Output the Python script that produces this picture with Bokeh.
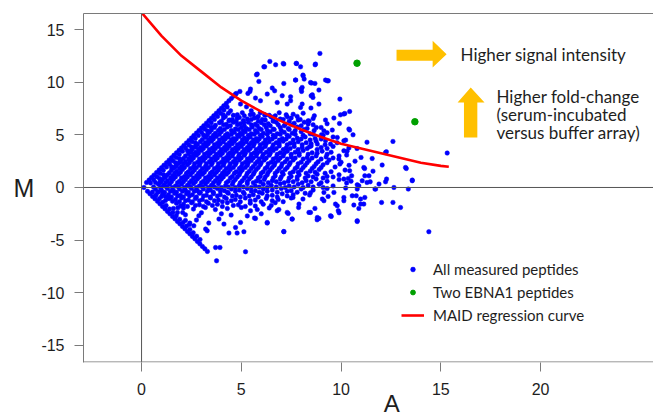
from bokeh.plotting import figure
from bokeh.models import (Range1d, LinearAxis, FixedTicker, Span, Label, Legend,
                          LegendItem, PolyAnnotation)
from bokeh.embed import file_html
from bokeh.resources import INLINE

# ---------------- data ----------------
x_ticks = [0, 5, 10, 15, 20]
y_ticks = [-15, -10, -5, 0, 5, 10, 15]

# MAID regression curve
curve_A = [0.05, 1, 2, 3, 4, 5, 6, 7, 8, 9, 10, 11, 12, 13, 14, 15, 15.4]
curve_M = [16.5, 14.4, 12.5, 11.0, 9.5, 8.25, 7.2, 6.3, 5.5, 4.8, 4.15, 3.7, 3.25, 2.8, 2.35, 2.05, 1.97]

# two EBNA1 peptides
ebna_A = [10.8, 13.7]
ebna_M = [11.8, 6.24]

# all measured peptides, (A, M) pairs grouped by region of the cloud
upper_edge = [(0.25,0.47),(0.38,0.71),(0.5,0.94),(0.62,1.17),(0.75,1.41),(0.88,1.65),(1.0,1.88),
              (1.12,2.11),(1.25,2.35),(1.38,2.59),(1.5,2.82),(1.62,3.05),(1.75,3.29),(1.88,3.53),
              (2.0,3.76),(2.12,3.99),(2.25,4.23),(2.38,4.47),(2.5,4.7),(2.62,4.93),(2.75,5.17),
              (2.88,5.41),(3.0,5.64),(3.12,5.87),(3.25,6.11),(3.38,6.35),(3.5,6.58),(3.62,6.81),
              (3.75,7.05),(3.88,7.29),(4.0,7.52),(4.12,7.75),(4.25,7.99),(4.38,8.23),(4.5,8.46),
              (4.62,8.69),(4.75,8.93)]
upper_inner = [(0.45,0.43),(0.61,0.73),(0.77,1.03),(0.93,1.33),(1.09,1.64),(1.25,1.94),(1.41,2.24),
               (1.57,2.54),(1.73,2.84),(1.89,3.14),(2.05,3.44),(2.21,3.74),(2.37,4.04),(2.53,4.34),
               (2.69,4.64),(2.85,4.94),(3.01,5.25),(3.17,5.55),(3.33,5.85),(3.49,6.15),(3.65,6.45),
               (3.81,6.75),(3.97,7.05),(4.13,7.35),(4.29,7.65),
               (0.7,0.47),(0.9,0.85),(1.1,1.22),(1.5,1.97),(1.7,2.35),(1.9,2.73),(2.3,3.48),(2.5,3.85),
               (2.7,4.23),(3.1,4.98),(3.3,5.36),(3.5,5.73),
               (0.95,0.56),(1.2,1.03),(1.7,1.97),(1.95,2.44),(2.45,3.38),(2.7,3.85),(3.2,4.79)]
lower_edge = [(0.12,0.0),(0.3,-0.37),(0.42,-0.6),(0.55,-0.85),(0.67,-1.07),(0.8,-1.32),(0.92,-1.55),
              (1.05,-1.8),(1.17,-2.02),(1.3,-2.27),(1.42,-2.5),(1.55,-2.75),(1.67,-2.97),(1.8,-3.22),
              (1.92,-3.45),(2.05,-3.7),(2.17,-3.92),(2.3,-4.17),(2.42,-4.4),(2.55,-4.65),(2.67,-4.87),
              (2.8,-5.12),(2.92,-5.35),(3.05,-5.6),(3.17,-5.82),(3.3,-6.07)]
lower_inner = [(0.55,-0.43),(0.72,-0.75),(0.89,-1.07),(1.06,-1.4),(1.23,-1.72),(1.4,-2.04),(1.57,-2.37),
               (1.74,-2.69),(1.91,-3.01),(2.08,-3.33),(2.25,-3.66),(2.42,-3.98),(2.59,-4.3),(2.76,-4.63),
               (2.93,-4.95),
               (0.8,-0.47),(1.0,-0.85),(1.2,-1.23),(1.6,-1.99),(1.8,-2.37),(2.2,-3.13),(2.4,-3.51),
               (1.1,-0.56),(1.34,-1.02),(1.82,-1.93),(2.06,-2.38)]
core = [(4.35,7.05),(4.8,6.9),(5.05,7.1),(5.6,6.95),(5.95,7.1),(6.4,6.85),(6.9,7.1),(7.6,6.95),(8.1,7.05),
        (4.1,6.6),(4.55,6.45),(4.9,6.65),(5.3,6.5),(5.65,6.6),(6.05,6.45),(6.5,6.7),(6.95,6.5),(7.5,6.6),(7.95,6.45),(8.6,6.55),
        (3.9,6.15),(4.25,6.0),(4.6,6.2),(4.95,6.05),(5.35,6.2),(5.7,6.0),(6.0,6.15),(6.35,6.05),(6.75,6.2),(7.2,6.0),(7.65,6.1),(8.15,6.2),(9.3,6.05),
        (3.65,5.7),(3.95,5.6),(4.3,5.75),(4.7,5.55),(5.0,5.7),(5.25,5.6),(5.55,5.75),(5.9,5.6),(6.25,5.7),(6.6,5.55),(6.95,5.7),(7.35,5.6),(7.8,5.75),(8.3,5.6),(9.0,5.7),
        (3.4,5.25),(3.7,5.15),(4.0,5.3),(4.3,5.1),(4.65,5.25),(4.95,5.15),(5.2,5.3),(5.5,5.1),(5.8,5.25),(6.1,5.15),(6.45,5.3),(6.8,5.1),(7.15,5.25),(7.55,5.15),(8.0,5.3),(8.45,5.1),(9.3,5.2),(10.6,5.0),
        (3.2,4.8),(3.45,4.7),(3.75,4.85),(4.05,4.7),(4.35,4.8),(4.6,4.65),(4.9,4.85),(5.15,4.7),(5.45,4.8),(5.75,4.65),(6.05,4.85),(6.35,4.7),(6.7,4.8),(7.05,4.65),(7.4,4.85),(7.8,4.7),(8.2,4.8),(8.7,4.65),(9.6,4.8),
        (2.95,4.35),(3.2,4.25),(3.5,4.4),(3.8,4.2),(4.1,4.35),(4.4,4.25),(4.65,4.4),(4.95,4.2),(5.25,4.35),(5.5,4.25),(5.8,4.4),(6.1,4.2),(6.4,4.35),(6.75,4.25),(7.1,4.4),(7.45,4.2),(7.85,4.35),(8.25,4.25),(8.75,4.4),(9.8,4.25),(11.3,4.3),
        (2.7,3.9),(2.95,3.8),(3.25,3.95),(3.55,3.75),(3.85,3.9),(4.15,3.8),(4.4,3.95),(4.7,3.75),(5.0,3.9),(5.3,3.8),(5.6,3.95),(5.9,3.75),(6.2,3.9),(6.55,3.8),(6.9,3.95),(7.25,3.75),(7.65,3.9),(8.05,3.8),(8.5,3.95),(9.0,3.8),(9.6,3.9),(10.8,3.7),
        (2.45,3.45),(2.7,3.35),(3.0,3.5),(3.3,3.3),(3.6,3.45),(3.9,3.35),(4.2,3.5),(4.45,3.3),(4.75,3.45),(5.05,3.35),(5.35,3.5),(5.65,3.3),(5.95,3.45),(6.25,3.35),(6.6,3.5),(6.95,3.3),(7.3,3.45),(7.7,3.35),(8.1,3.5),(8.55,3.3),(9.05,3.45),(9.5,3.35),(10.3,3.45),
        (2.2,3.0),(2.45,2.9),(2.75,3.05),(3.05,2.85),(3.35,3.0),(3.65,2.9),(3.95,3.05),(4.25,2.85),(4.55,3.0),(4.85,2.9),(5.15,3.05),(5.45,2.85),(5.75,3.0),(6.05,2.9),(6.4,3.05),(6.75,2.85),(7.1,3.0),(7.5,2.9),(7.9,3.05),(8.3,2.85),(8.75,3.0),(9.25,2.9),(9.9,3.0),(11.0,2.85),
        (1.95,2.55),(2.2,2.45),(2.5,2.6),(2.8,2.4),(3.1,2.55),(3.4,2.45),(3.7,2.6),(4.0,2.4),(4.3,2.55),(4.6,2.45),(4.9,2.6),(5.2,2.4),(5.5,2.55),(5.8,2.45),(6.15,2.6),(6.5,2.4),(6.85,2.55),(7.2,2.45),(7.6,2.6),(8.0,2.4),(8.4,2.55),(8.85,2.45),(9.4,2.6),(10.0,2.4),(10.7,2.5),
        (1.75,2.1),(2.0,2.0),(2.3,2.15),(2.6,1.95),(2.9,2.1),(3.2,2.0),(3.5,2.15),(3.8,1.95),(4.1,2.1),(4.4,2.0),(4.7,2.15),(5.0,1.95),(5.3,2.1),(5.6,2.0),(5.95,2.15),(6.3,1.95),(6.65,2.1),(7.0,2.0),(7.4,2.15),(7.8,1.95),(8.2,2.1),(8.65,2.0),(9.1,2.15),(9.7,1.95),(10.4,2.1),
        (1.5,1.65),(1.75,1.55),(2.05,1.7),(2.35,1.5),(2.65,1.65),(2.95,1.55),(3.25,1.7),(3.55,1.5),(3.85,1.65),(4.15,1.55),(4.45,1.7),(4.75,1.5),(5.05,1.65),(5.4,1.55),(5.75,1.7),(6.1,1.5),(6.45,1.65),(6.8,1.55),(7.2,1.7),(7.6,1.5),(8.0,1.65),(8.45,1.55),(8.9,1.7),(9.5,1.5),(10.2,1.65),(11.6,1.55),
        (1.3,1.2),(1.55,1.1),(1.85,1.25),(2.15,1.05),(2.45,1.2),(2.75,1.1),(3.05,1.25),(3.35,1.05),(3.65,1.2),(3.95,1.1),(4.25,1.25),(4.55,1.05),(4.9,1.2),(5.25,1.1),(5.6,1.25),(5.95,1.05),(6.3,1.2),(6.7,1.1),(7.1,1.25),(7.5,1.05),(7.9,1.2),(8.35,1.1),(8.8,1.25),(9.3,1.05),(9.9,1.2),
        (1.05,0.75),(1.3,0.65),(1.6,0.8),(1.9,0.6),(2.2,0.75),(2.5,0.65),(2.8,0.8),(3.1,0.6),(3.4,0.75),(3.7,0.65),(4.0,0.8),(4.35,0.6),(4.7,0.75),(5.05,0.65),(5.4,0.8),(5.75,0.6),(6.15,0.75),(6.55,0.65),(6.95,0.8),(7.35,0.6),(7.8,0.75),(8.25,0.65),(8.75,0.8),(9.3,0.6),(9.9,0.75),(10.5,0.6),
        (0.85,0.3),(1.1,0.2),(1.4,0.3),(1.7,0.15),(2.0,0.3),(2.3,0.2),(2.6,0.35),(2.9,0.15),(3.2,0.3),(3.5,0.2),(3.85,0.35),(4.2,0.15),(4.55,0.3),(4.9,0.2),(5.3,0.35),(5.7,0.15),(6.1,0.3),(6.5,0.2),(6.95,0.35),(7.4,0.15),(7.85,0.3),(8.35,0.2),(8.9,0.3),(9.6,0.15),
        (0.7,-0.15),(1.0,-0.25),(1.3,-0.1),(1.6,-0.3),(1.9,-0.15),(2.2,-0.25),(2.5,-0.1),(2.8,-0.3),(3.1,-0.15),(3.45,-0.25),(3.8,-0.1),(4.15,-0.3),(4.5,-0.15),(4.9,-0.25),(5.3,-0.1),(5.7,-0.3),(6.1,-0.15),(6.55,-0.25),(7.0,-0.1),(7.5,-0.3),(8.0,-0.15),(8.6,-0.25),(9.3,-0.1),
        (1.05,-0.6),(1.35,-0.7),(1.65,-0.55),(1.95,-0.75),(2.25,-0.6),(2.55,-0.7),(2.9,-0.55),(3.25,-0.75),(3.6,-0.6),(3.95,-0.7),(4.35,-0.55),(4.75,-0.75),(5.15,-0.6),(5.6,-0.7),(6.05,-0.55),(6.55,-0.75),(7.05,-0.6),(7.6,-0.7),(8.2,-0.55),
        (1.4,-1.05),(1.7,-1.15),(2.0,-1.0),(2.35,-1.2),(2.7,-1.05),(3.05,-1.15),(3.45,-1.0),(3.85,-1.2),(4.25,-1.05),(4.7,-1.15),(5.2,-1.0),(5.7,-1.2),(6.25,-1.05),(6.85,-1.15),(7.5,-1.0),
        (1.75,-1.5),(2.1,-1.6),(2.5,-1.45),(2.9,-1.65),(3.35,-1.5),(3.8,-1.6),(4.3,-1.45),(4.85,-1.65),(5.45,-1.5),(6.1,-1.6),(6.7,-1.45),
        (2.1,-1.95),(2.6,-2.05),(3.2,-1.9),(3.7,-2.1),(4.3,-2.0),(5.0,-1.9),(5.8,-2.1),(6.4,-1.95)]
core_between = [(4.2,6.75),(4.6,6.85),(5.15,6.8),(5.45,6.9),(5.85,6.75),(6.2,6.85),(6.7,6.8),(7.25,6.9),(7.8,6.75),
        (4.0,6.3),(4.4,6.4),(4.75,6.3),(5.1,6.35),(5.5,6.45),(5.85,6.3),(6.2,6.4),(6.6,6.3),(7.1,6.45),(7.4,6.3),(7.85,6.4),(8.4,6.3),
        (3.7,5.9),(4.1,5.95),(4.45,5.85),(4.8,5.95),(5.15,5.85),(5.5,5.95),(5.8,5.85),(6.15,5.95),(6.45,5.85),(6.85,5.95),(7.15,5.85),(7.55,5.95),(8.0,5.85),(8.6,5.95),
        (3.5,5.45),(3.85,5.4),(4.15,5.5),(4.5,5.4),(4.85,5.5),(5.1,5.4),(5.4,5.5),(5.7,5.4),(6.0,5.5),(6.3,5.4),(6.65,5.5),(7.0,5.4),(7.4,5.5),(7.7,5.4),(8.15,5.5),(8.65,5.4),
        (3.3,5.0),(3.6,4.95),(3.9,5.05),(4.2,4.95),(4.5,5.05),(4.8,4.95),(5.05,5.05),(5.35,4.95),(5.65,5.05),(5.95,4.95),(6.3,5.05),(6.6,4.95),(6.95,5.05),(7.3,4.95),(7.7,5.05),(8.1,4.95),(8.6,5.05),(9.1,4.95),
        (3.05,4.55),(3.35,4.5),(3.6,4.6),(3.9,4.5),(4.2,4.6),(4.5,4.5),(4.75,4.6),(5.05,4.5),(5.3,4.6),(5.6,4.5),(5.9,4.6),(6.2,4.5),(6.55,4.6),(6.9,4.5),(7.25,4.6),(7.6,4.5),(8.0,4.6),(8.45,4.5),(9.0,4.6),
        (2.8,4.1),(3.1,4.05),(3.35,4.15),(3.65,4.05),(3.95,4.15),(4.25,4.05),(4.55,4.15),(4.8,4.05),(5.1,4.15),(5.4,4.05),(5.65,4.15),(5.95,4.05),(6.25,4.15),(6.6,4.05),(6.9,4.15),(7.3,4.05),(7.65,4.15),(8.05,4.05),(8.5,4.15),(9.2,4.05),
        (2.55,3.65),(2.85,3.6),(3.1,3.7),(3.4,3.6),(3.7,3.7),(4.0,3.6),(4.3,3.7),(4.55,3.6),(4.85,3.7),(5.15,3.6),(5.45,3.7),(5.75,3.6),(6.05,3.7),(6.4,3.6),(6.75,3.7),(7.1,3.6),(7.45,3.7),(7.85,3.6),(8.3,3.7),(8.8,3.6),(9.3,3.7),
        (2.35,3.2),(2.6,3.15),(2.85,3.25),(3.15,3.15),(3.45,3.25),(3.75,3.15),(4.05,3.25),(4.35,3.15),(4.6,3.25),(4.9,3.15),(5.2,3.25),(5.5,3.15),(5.8,3.25),(6.1,3.15),(6.45,3.25),(6.8,3.15),(7.15,3.25),(7.5,3.15),(7.9,3.25),(8.35,3.15),(8.8,3.25),(9.3,3.15),
        (2.1,2.75),(2.35,2.7),(2.6,2.8),(2.9,2.7),(3.2,2.8),(3.5,2.7),(3.8,2.8),(4.1,2.7),(4.4,2.8),(4.7,2.7),(5.0,2.8),(5.3,2.7),(5.6,2.8),(5.9,2.7),(6.25,2.8),(6.6,2.7),(6.95,2.8),(7.3,2.7),(7.7,2.8),(8.1,2.7),(8.55,2.8),(9.0,2.7),(9.6,2.8),
        (1.85,2.3),(2.1,2.25),(2.4,2.35),(2.65,2.25),(2.95,2.35),(3.25,2.25),(3.55,2.35),(3.85,2.25),(4.15,2.35),(4.45,2.25),(4.75,2.35),(5.05,2.25),(5.35,2.35),(5.7,2.25),(6.0,2.35),(6.35,2.25),(6.7,2.35),(7.05,2.25),(7.45,2.35),(7.85,2.25),(8.3,2.35),(8.75,2.25),(9.3,2.35),
        (1.6,1.85),(1.9,1.8),(2.15,1.9),(2.45,1.8),(2.75,1.9),(3.05,1.8),(3.35,1.9),(3.65,1.8),(3.95,1.9),(4.25,1.8),(4.6,1.9),(4.9,1.8),(5.2,1.9),(5.5,1.8),(5.85,1.9),(6.2,1.8),(6.55,1.9),(6.9,1.8),(7.3,1.9),(7.7,1.8),(8.1,1.9),(8.55,1.8),(9.0,1.9),
        (1.4,1.4),(1.65,1.35),(1.95,1.45),(2.25,1.35),(2.55,1.45),(2.85,1.35),(3.15,1.45),(3.45,1.35),(3.75,1.45),(4.05,1.35),(4.35,1.45),(4.65,1.35),(4.95,1.45),(5.3,1.35),(5.65,1.45),(6.0,1.35),(6.35,1.45),(6.7,1.35),(7.05,1.45),(7.45,1.35),(7.85,1.45),(8.25,1.35),(8.7,1.45),(9.2,1.35),
        (1.15,0.95),(1.45,0.9),(1.7,1.0),(2.0,0.9),(2.3,1.0),(2.6,0.9),(2.9,1.0),(3.2,0.9),(3.5,1.0),(3.8,0.9),(4.1,1.0),(4.45,0.9),(4.8,1.0),(5.15,0.9),(5.5,1.0),(5.85,0.9),(6.2,1.0),(6.6,0.9),(7.0,1.0),(7.4,0.9),(7.8,1.0),(8.2,0.9),(8.6,1.0),(9.1,0.9),(9.6,1.0),
        (0.95,0.5),(1.2,0.45),(1.5,0.55),(1.8,0.45),(2.1,0.55),(2.4,0.45),(2.7,0.55),(3.0,0.45),(3.3,0.55),(3.6,0.45),(3.9,0.55),(4.25,0.45),(4.6,0.55),(4.95,0.45),(5.3,0.55),(5.6,0.45),(5.95,0.55),(6.35,0.45),(6.75,0.55),(7.15,0.45),(7.6,0.55),(8.05,0.45),(8.5,0.55),(9.0,0.45),
        (0.6,0.05),(0.95,0.0),(1.25,0.05),(1.55,0.0),(1.85,0.05),(2.15,0.0),(2.45,0.05),(2.75,0.0),(3.05,0.05),(3.35,0.0),(3.65,0.05),(4.0,0.0),(4.35,0.05),(4.7,0.0),(5.1,0.05),(5.5,0.0),(5.9,0.05),(6.3,0.0),(6.75,0.05),(7.2,0.0),(7.65,0.05),(8.1,0.0),(8.6,0.05),(9.1,0.0),
        (0.85,-0.4),(1.15,-0.45),(1.45,-0.35),(1.75,-0.45),(2.05,-0.35),(2.35,-0.45),(2.65,-0.35),(2.95,-0.45),(3.3,-0.35),(3.6,-0.45),(3.95,-0.35),(4.3,-0.45),(4.7,-0.35),(5.1,-0.45),(5.5,-0.35),(5.9,-0.45),(6.3,-0.35),(6.8,-0.45),(7.3,-0.35),(7.8,-0.45),
        (1.2,-0.85),(1.5,-0.9),(1.8,-0.8),(2.1,-0.9),(2.4,-0.8),(2.75,-0.9),(3.1,-0.8),(3.45,-0.9),(3.8,-0.8),(4.15,-0.9),(4.55,-0.8),(4.95,-0.9),(5.4,-0.8),(5.85,-0.9),(6.3,-0.8),(6.8,-0.9),(7.3,-0.8),
        (1.55,-1.3),(1.9,-1.35),(2.2,-1.25),(2.55,-1.35),(2.9,-1.25),(3.25,-1.35),(3.65,-1.25),(4.05,-1.35),(4.5,-1.25),(4.95,-1.35),(5.45,-1.25),(6.0,-1.35),(6.55,-1.25),(7.1,-1.35),
        (1.95,-1.75),(2.3,-1.8),(2.7,-1.7),(3.1,-1.8),(3.55,-1.7),(4.05,-1.8),(4.6,-1.7),(5.2,-1.8),(5.7,-1.75),(6.5,-1.7)]
high_points = [(8.94,12.73),(7.75,11.78),(7.97,11.46),(8.70,11.65),(8.09,10.67),(7.72,10.2),(8.15,10.29),
               (8.52,9.91),(8.69,9.88),(9.22,10.2),(9.36,10.13),(8.05,9.5),(8.02,9.12),(8.89,9.25),(8.56,8.8),
               (8.59,8.55),(7.47,8.61),(9.94,8.39),(8.05,7.92),(8.89,7.92),(10.43,7.22),(10.19,7.03),(9.97,6.9),
               (8.49,7.54),(8.66,6.81),(9.22,6.4),(9.64,6.59),(9.92,6.08),(8.35,6.33),(8.35,6.02),(8.76,5.7),
               (9.14,5.38),(9.56,5.45),(10.43,5.45),(9.81,4.75),(10.23,4.5),(12.6,4.37),(9.02,5.0),(9.22,4.43),
               (9.47,4.12),(8.81,4.12),(8.42,3.87),(10.39,3.74),
               (7.1,11.78),(6.72,11.65),(6.43,11.97),(6.17,11.46),(5.76,10.7),(5.88,10.07),(7.13,9.88),(6.55,9.44),
               (6.3,8.87),(5.46,9.34),(5.33,8.93),(4.93,9.12),(4.71,8.87),(5.71,8.49),(5.96,8.23),(7.05,8.71),
               (6.8,8.07),(7.3,7.92),(4.96,7.92),(5.26,7.66),(5.5,7.28),(4.46,7.28),(4.09,6.9),(4.79,6.59),
               (4.38,6.33),(5.13,6.17),(5.8,6.65),(6.17,6.9),(6.6,6.33),(7.3,6.71),
               (7.13,11.72),(7.77,11.78),(8.72,11.72),(6.13,11.46),(5.8,10.77),(7.72,10.2),(8.1,10.6),(8.47,9.97),
               (9.31,10.13),(8.0,9.34),(8.5,8.71),(6.67,9.18),(5.43,9.12),(7.47,8.23),(7.97,7.6),(10.14,6.97),
               (10.39,5.55),(10.14,4.43)]
low_points = [(2.87,-2.69),(3.37,-3.38),(4.38,-4.33),(4.79,-4.33),(5.13,-4.2),(4.71,-3.8),(4.49,-2.62),
              (4.13,-3.48),(4.96,-3.32),(5.71,-2.94),(6.3,-3.38),(7.13,-4.2),(7.3,-2.37),(6.88,-2.1),
              (5.46,-2.21),(3.88,-3.0),(3.21,-3.95),(2.62,-3.64),(2.42,-3.38),(3.71,-5.7),(3.93,-5.7),
              (3.76,-6.96),(5.21,-6.1),(5.66,-2.91),(6.8,-2.21),(7.55,-3.0),(3.29,-4.11),(2.2,-2.6),
              (3.0,-2.4),(4.0,-2.5),(5.3,-2.7),(6.0,-2.5),(2.75,-3.1),(6.3,-3.32),(7.13,-4.18)]
right_points = [(12.27,3.39),(11.56,2.75),(12.06,2.13),(13.27,1.8),(13.57,0.64),(13.37,-0.15),(12.65,0.0),
                (12.23,0.54),(11.9,0.32),(11.7,-0.15),(11.4,1.11),(11.46,0.54),(11.18,1.8),(11.06,0.64),
                (10.89,0.16),(12.03,-1.42),(12.6,-1.42),(12.98,-1.9),(14.4,-4.2),(10.81,-3.23),(10.89,-1.99),
                (10.64,-1.67),(11.14,-1.58),(11.19,-0.95),(10.98,-1.1),(10.76,-0.79),(10.56,-0.79),
                (10.14,-0.95),(9.81,-1.74),(9.86,-2.21),(9.9,-2.4),(9.51,-2.75),(8.89,-2.94),(8.8,-3.07),
                (7.89,-1.58),(7.87,-1.9),(8.39,-2.37),(8.69,-1.99),(7.55,-3.0),(7.35,-2.47),(7.59,-0.95),
                (8.09,-1.1),(8.42,-0.72),(8.47,-0.5),(9.14,-0.47),(9.06,-1.1),(9.35,-0.85),(9.64,-0.47),
                (11.19,1.11),(11.73,-0.15),(10.81,-0.15),(10.23,-0.06),(10.28,0.42),(10.36,0.86),
                (10.53,1.11),(10.14,0.8),(10.28,3.08),(10.14,3.49),(9.89,2.7),(9.94,2.22),(10.43,1.59),
                (12.23,3.32),(15.32,3.27),(13.23,1.9),(12.28,0.8),(13.57,0.7),(11.14,1.9),(11.3,0.47),
                (10.81,0.26),(10.98,-1.58),(10.81,-3.16),(10.14,-1.26),(9.72,-1.58),(9.47,-2.69),
                (9.14,-1.26),(8.81,-2.85),(8.47,-2.37)]

peptide_groups = [upper_edge, upper_inner, lower_edge, lower_inner, core, core_between,
                  high_points, low_points, right_points]
pep_A = [a for g in peptide_groups for a, m in g]
pep_M = [m for g in peptide_groups for a, m in g]

legend_labels = ["All measured peptides", "Two EBNA1 peptides", "MAID regression curve"]

# ---------------- figure ----------------
AXC = "#7a7a7a"
TXT = "#1e1e1e"
ORANGE = "#FFC000"

p = figure(width=653, height=419,
           x_range=Range1d(-2.91, 25.66), y_range=Range1d(-16.62, 16.52),
           output_backend="svg", toolbar_location=None,
           min_border_left=83, min_border_right=0, min_border_top=13, min_border_bottom=57)
p.outline_line_color = None
p.grid.visible = False

xax = p.xaxis[0]
yax = p.yaxis[0]
for ax in (xax, yax):
    ax.axis_line_color = AXC
    ax.major_tick_line_color = AXC
    ax.major_tick_out = 9
    ax.major_tick_in = 0
    ax.minor_tick_out = 0
    ax.minor_tick_in = 0
    ax.major_label_text_font = "Liberation Sans"
    ax.major_label_text_font_size = "16px"
    ax.major_label_text_color = TXT
    ax.axis_label_text_font = "Liberation Sans"
    ax.axis_label_text_font_style = "normal"
    ax.axis_label_text_color = TXT
xax.ticker = FixedTicker(ticks=x_ticks)
yax.ticker = FixedTicker(ticks=y_ticks)
yax.major_label_overrides = {-15: "-15", -10: "-10", -5: "-5"}
xax.major_label_standoff = 11
yax.major_label_standoff = 10

# x axis: label "A" sits right of the frame centre, as in the picture
xax.axis_line_color = None
xax.axis_label = "\u00a0" * 7 + "A"
xax.axis_label_text_font_size = "24px"
xax.axis_label_standoff = -8

yax.axis_label = "M"
yax.axis_label_text_font_size = "25px"
yax.axis_label_standoff = 4
if "axis_label_orientation" in yax.properties():
    yax.axis_label_orientation = "horizontal"

top = LinearAxis(ticker=FixedTicker(ticks=[]), axis_line_color=AXC,
                 major_tick_out=0, major_tick_in=0, minor_tick_out=0, minor_tick_in=0,
                 major_label_standoff=0, axis_label_standoff=0,
                 major_label_text_font_size="0px")
p.add_layout(top, "above")

blue = p.scatter(pep_A, pep_M, size=4.5, fill_color="#0000ff", line_color="#0000ff", line_width=0.5)

p.add_layout(Span(location=0, dimension="width", line_color="#555555", line_width=1))
p.add_layout(Span(location=0, dimension="height", line_color="#555555", line_width=1))
# bottom frame line
p.add_layout(Span(location=-16.57, dimension="width", line_color=AXC, line_width=1))

red = p.line(curve_A, curve_M, line_color="#ff0000", line_width=2.6)
green = p.scatter(ebna_A, ebna_M, size=6.5, fill_color="#00a000", line_color="#00a000")

legend = Legend(items=[LegendItem(label=legend_labels[0], renderers=[blue]),
                       LegendItem(label=legend_labels[1], renderers=[green]),
                       LegendItem(label=legend_labels[2], renderers=[red])],
                location=(318, 36), orientation="vertical",
                border_line_color=None, background_fill_alpha=0,
                padding=0, margin=0, spacing=1,
                label_height=22, glyph_height=12, glyph_width=23, label_standoff=9,
                label_text_font="Lato", label_text_font_size="15px", label_text_color=TXT)
p.add_layout(legend)

# block arrows
p.add_layout(PolyAnnotation(xs=[12.78, 14.59, 14.59, 15.29, 14.59, 14.59, 12.78],
                            ys=[12.03, 12.03, 11.40, 12.65, 13.93, 13.08, 13.08],
                            fill_color=ORANGE, fill_alpha=1, line_alpha=0))
p.add_layout(PolyAnnotation(xs=[16.16, 16.83, 16.83, 17.19, 16.5, 15.84, 16.16],
                            ys=[4.75, 4.75, 8.07, 8.07, 9.50, 8.07, 8.07],
                            fill_color=ORANGE, fill_alpha=1, line_alpha=0))

def note(x, y, s):
    p.add_layout(Label(x=x, y=y, text=s, text_font="Lato", text_font_size="17px",
                       text_baseline="middle", text_align="left", text_color=TXT))

note(15.99, 12.65, "Higher signal intensity")
note(17.79, 8.61, "Higher fold-change")
note(17.79, 6.90, "(serum-incubated")
note(17.79, 5.22, "versus buffer array)")

open("out.html", "w").write(file_html(p, INLINE))
